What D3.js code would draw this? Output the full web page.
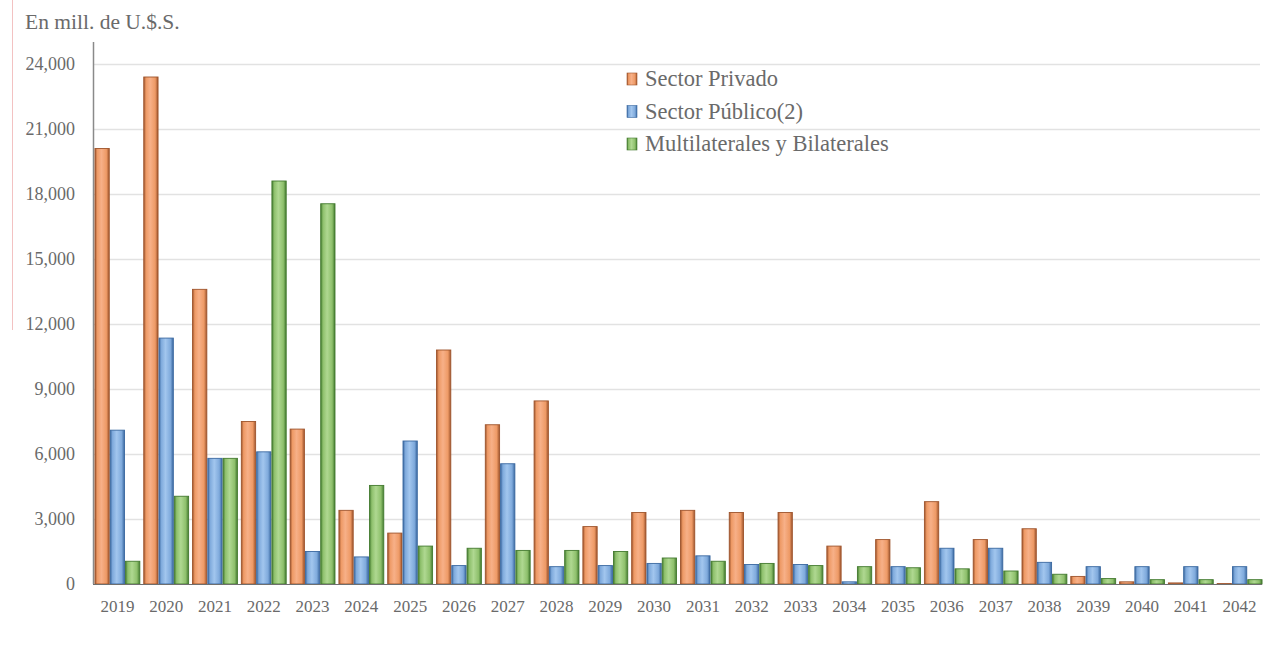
<!DOCTYPE html>
<html><head><meta charset="utf-8">
<script src="https://cdn.jsdelivr.net/npm/d3@7"></script>
<style>
html,body{margin:0;padding:0;background:#fff;}
svg{display:block;}
text{font-family:"Liberation Serif","Times New Roman",serif;}
</style></head>
<body>
<svg id="chart" width="1264" height="645"></svg>
<script>
const years = ["2019","2020","2021","2022","2023","2024","2025","2026","2027","2028","2029","2030","2031","2032","2033","2034","2035","2036","2037","2038","2039","2040","2041","2042"];
const privado = [20100,23400,13600,7500,7150,3400,2350,10800,7350,8450,2650,3300,3400,3300,3300,1750,2050,3800,2050,2550,350,100,50,20];
const publico = [7100,11350,5800,6100,1500,1250,6600,850,5550,800,850,950,1300,900,900,100,800,1650,1650,1000,800,800,800,800];
const multi = [1050,4050,5800,18600,17550,4550,1750,1650,1550,1550,1500,1200,1050,950,850,800,750,700,600,450,250,200,200,200];
const seriesNames = ["Sector Privado","Sector Público(2)","Multilaterales y Bilaterales"];
const yTicks = [0,3000,6000,9000,12000,15000,18000,21000,24000];
const unitLabel = "En mill. de U.$.S.";

const series = [privado, publico, multi];
const palette = [
  {light:"#F7B088", mid:"#EE9A66", dark:"#9E542C"},
  {light:"#A2C6EE", mid:"#7FAADC", dark:"#3A68A0"},
  {light:"#AFD891", mid:"#8EC06C", dark:"#437A2F"}
];

const svg = d3.select("#chart");
const margin = {left:93, right:0, top:64, bottom:61};
const W = 1264, H = 645;
const plotBottom = H - margin.bottom; // 584

const x0 = d3.scaleBand().domain(years).range([margin.left, W - margin.right]).paddingInner(0.06).paddingOuter(0.03);
const x1 = d3.scaleBand().domain([0,1,2]).range([0, x0.bandwidth()]).padding(0);
const y = d3.scaleLinear().domain([0,24000]).range([plotBottom, margin.top]);

const defs = svg.append("defs");
palette.forEach((p,i)=>{
  const g = defs.append("linearGradient").attr("id","g"+i).attr("x1","0").attr("x2","1").attr("y1","0").attr("y2","0");
  g.append("stop").attr("offset","0%").attr("stop-color",p.dark);
  g.append("stop").attr("offset","16%").attr("stop-color",p.mid);
  g.append("stop").attr("offset","45%").attr("stop-color",p.light);
  g.append("stop").attr("offset","80%").attr("stop-color",p.mid);
  g.append("stop").attr("offset","100%").attr("stop-color",p.dark);
});

svg.append("line").attr("x1",12.5).attr("x2",12.5).attr("y1",0).attr("y2",330)
  .attr("stroke","#f3c2c2").attr("stroke-width",1);

svg.append("g").selectAll("line").data(yTicks.filter(d=>d>0)).join("line")
  .attr("x1",margin.left).attr("x2",W-4)
  .attr("y1",d=>Math.round(y(d))+0.5).attr("y2",d=>Math.round(y(d))+0.5)
  .attr("stroke","#e2e2e2").attr("stroke-width",1.5);

const yAxis = d3.axisLeft(y).tickValues(yTicks).tickSize(0).tickPadding(18)
  .tickFormat(d3.format(","));
const gy = svg.append("g").attr("transform",`translate(${margin.left},0)`).call(yAxis);
gy.select(".domain").remove();
gy.selectAll("text").attr("font-size",18).attr("fill","#6a6a6a").attr("font-family","Liberation Serif");
svg.append("line").attr("x1",margin.left+0.5).attr("x2",margin.left+0.5).attr("y1",42).attr("y2",plotBottom)
  .attr("stroke","#8a8a8a").attr("stroke-width",1.5);

const groups = svg.append("g").selectAll("g").data(years).join("g")
  .attr("transform",d=>`translate(${x0(d)},0)`);
groups.selectAll("rect").data((d,i)=>series.map((s,k)=>({k, v:s[i]}))).join("rect")
  .attr("x",d=>x1(d.k)+0.5)
  .attr("width",x1.bandwidth()-1)
  .attr("y",d=>y(d.v))
  .attr("height",d=>plotBottom - y(d.v))
  .attr("fill",d=>`url(#g${d.k})`)
  .attr("stroke",d=>palette[d.k].dark).attr("stroke-width",0.9);

svg.append("line").attr("x1",margin.left).attr("x2",W-2).attr("y1",plotBottom+0.5).attr("y2",plotBottom+0.5)
  .attr("stroke","#6f6f6f").attr("stroke-width",1.2);

const xAxis = d3.axisBottom(x0).tickSize(0).tickPadding(16);
const gx = svg.append("g").attr("transform",`translate(0,${plotBottom})`).call(xAxis);
gx.select(".domain").remove();
gx.selectAll("text").attr("font-size",17).attr("fill","#6a6a6a").attr("font-family","Liberation Serif");

svg.append("text").attr("x",25).attr("y",29).attr("font-size",21.5).attr("fill","#6a6a6a").text(unitLabel);

const leg = svg.append("g").attr("transform","translate(627,79)");
seriesNames.forEach((n,i)=>{
  const row = leg.append("g").attr("transform",`translate(0,${i*32.5})`);
  row.append("rect").attr("x",0).attr("y",-6).attr("width",10).attr("height",12)
    .attr("fill",`url(#g${i})`).attr("stroke",palette[i].dark).attr("stroke-width",0.6);
  row.append("text").attr("x",18).attr("y",7).attr("font-size",22.5).attr("fill","#6a6a6a").text(n);
});
</script>
</body></html>
